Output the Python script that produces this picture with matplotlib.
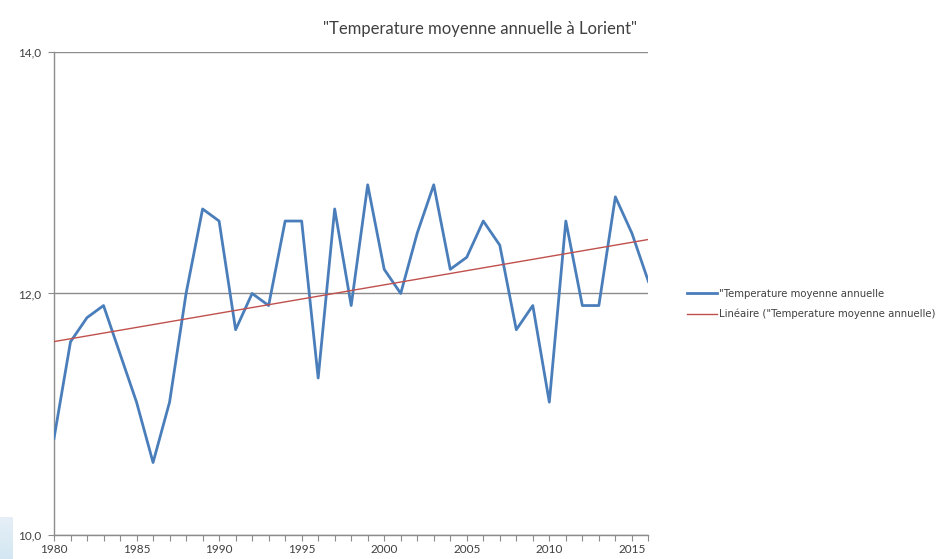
import numpy as np
import matplotlib
matplotlib.use("Agg")
import matplotlib.pyplot as plt
from matplotlib.ticker import MultipleLocator, FuncFormatter

plt.rcParams['font.family'] = ['Lato', 'DejaVu Sans']

# températures moyennes annuelles à Lorient
annees = list(range(1980, 2017))
temperatures = [10.8, 11.6, 11.8, 11.9, 11.5, 11.1, 10.6, 11.1, 12.0, 12.7,
                12.6, 11.7, 12.0, 11.9, 12.6, 12.6, 11.3, 12.7, 11.9, 12.9,
                12.2, 12.0, 12.5, 12.9, 12.2, 12.3, 12.6, 12.4, 11.7, 11.9,
                11.1, 12.6, 11.9, 11.9, 12.8, 12.5, 12.1]

titre = '"Temperature moyenne annuelle à Lorient"'
serie = '"Temperature moyenne annuelle'
tendance = 'Linéaire ("Temperature moyenne annuelle)'

bleu = '#4a7ebb'
rouge = '#c0504d'
gris = '#8c8c8c'

fig = plt.figure(figsize=(9.39, 5.59), dpi=100)

# petite zone bleutée dans le coin inférieur gauche
coin = fig.add_axes([0, 0, 0.013, 0.075])
coin.imshow(np.linspace(0, 1, 50).reshape(-1, 1), cmap='Blues', vmin=-2, vmax=6,
            aspect='auto', alpha=0.45)
coin.axis('off')

ax = fig.add_axes([0.0575, 0.043, 0.633, 0.864])

# courbe de tendance linéaire (moindres carrés)
a, b = np.polyfit(annees, temperatures, 1)
x = np.array(annees)
ax.plot(annees, temperatures, color=bleu, lw=2.0, label=serie, zorder=3)
ax.plot(x, a * x + b, color=rouge, lw=1.0, label=tendance, zorder=4)

ax.set_xlim(1980, 2016)
ax.set_ylim(10, 14)
ax.yaxis.set_major_locator(MultipleLocator(2))
ax.yaxis.set_major_formatter(FuncFormatter(lambda v, p: f'{v:.1f}'.replace('.', ',')))
ax.xaxis.set_major_locator(MultipleLocator(5))
ax.xaxis.set_minor_locator(MultipleLocator(1))

ax.grid(axis='y', color=gris, lw=1.0)
ax.set_axisbelow(True)
for s in ['top', 'right']:
    ax.spines[s].set_visible(False)
for s in ['left', 'bottom']:
    ax.spines[s].set_color(gris)
    ax.spines[s].set_linewidth(1.0)

ax.tick_params(axis='both', which='both', direction='out', color=gris,
               length=4, width=0.8, labelsize=8.5, labelcolor='#404040')
ax.tick_params(axis='x', pad=2.5)
ax.tick_params(axis='y', pad=5)

fig.text(0.511, 0.948, titre, ha='center', va='center', fontsize=12,
         color='#404040')

fig.legend(loc='upper left', bbox_to_anchor=(0.722, 0.5), frameon=False,
           handlelength=3.0, handletextpad=0.15, labelspacing=1.0,
           labelcolor='#404040', prop={'family': 'DejaVu Sans', 'size': 7.3})

fig.savefig('out.png', dpi=100)
